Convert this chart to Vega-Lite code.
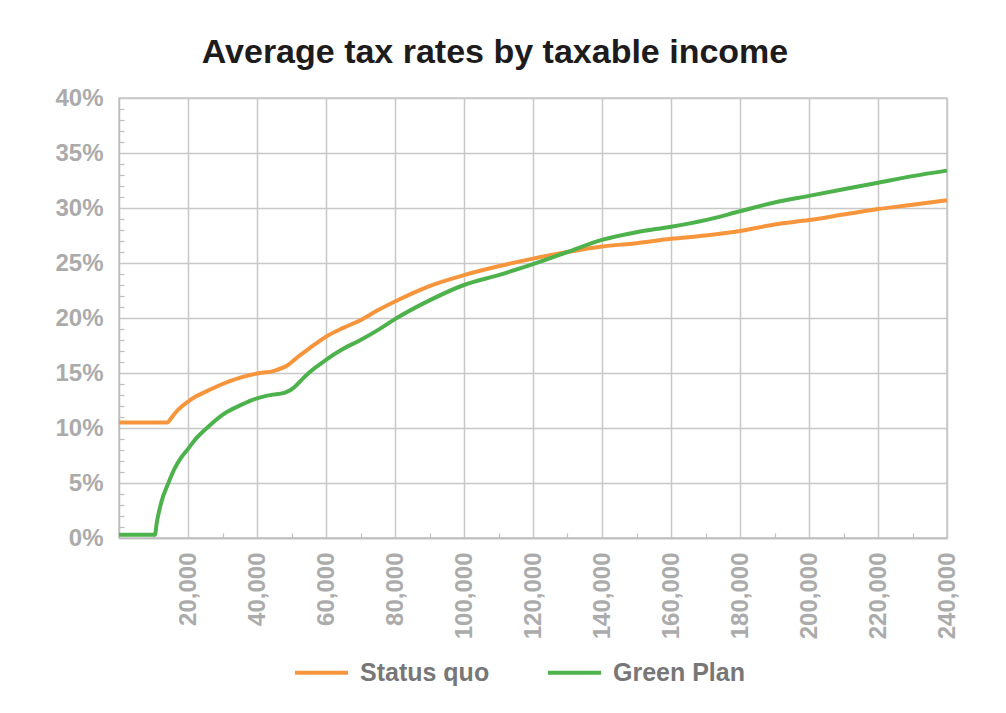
{
  "$schema": "https://vega.github.io/schema/vega-lite/v6.json",
  "autosize": "none",
  "width": 828,
  "height": 440,
  "padding": {"left": 119, "top": 98, "right": 59, "bottom": 175},
  "background": "white",
  "title": {
    "text": "Average tax rates by taxable income",
    "font": "Liberation Sans",
    "fontSize": 34,
    "fontWeight": "bold",
    "color": "#1d1b1c",
    "anchor": "middle",
    "dx": -38,
    "offset": 16
  },
  "config": {
    "view": {"stroke": "#c8c8c8", "strokeWidth": 1.5},
    "axis": {
      "labelFont": "Liberation Sans",
      "labelFontWeight": "bold",
      "labelColor": "#ababab",
      "labelFontSize": 24,
      "domainColor": "#bdbdbd",
      "domainWidth": 1.5,
      "gridColor": "#c8c8c8",
      "gridWidth": 1.5,
      "tickColor": "#bdbdbd",
      "tickWidth": 1.2
    }
  },
  "data": {
    "values": [
      {"plan": "Status quo", "income": 0, "rate": 10.5},
      {"plan": "Status quo", "income": 14000, "rate": 10.5},
      {"plan": "Status quo", "income": 15000, "rate": 10.85},
      {"plan": "Status quo", "income": 16100, "rate": 11.3},
      {"plan": "Status quo", "income": 18000, "rate": 11.9},
      {"plan": "Status quo", "income": 20000, "rate": 12.4},
      {"plan": "Status quo", "income": 22500, "rate": 12.9},
      {"plan": "Status quo", "income": 25800, "rate": 13.4},
      {"plan": "Status quo", "income": 30000, "rate": 14.0},
      {"plan": "Status quo", "income": 35400, "rate": 14.6},
      {"plan": "Status quo", "income": 40000, "rate": 14.95},
      {"plan": "Status quo", "income": 45000, "rate": 15.2},
      {"plan": "Status quo", "income": 48900, "rate": 15.7},
      {"plan": "Status quo", "income": 52000, "rate": 16.5},
      {"plan": "Status quo", "income": 55000, "rate": 17.2},
      {"plan": "Status quo", "income": 60000, "rate": 18.3},
      {"plan": "Status quo", "income": 65000, "rate": 19.1},
      {"plan": "Status quo", "income": 70000, "rate": 19.8},
      {"plan": "Status quo", "income": 75000, "rate": 20.7},
      {"plan": "Status quo", "income": 80000, "rate": 21.5},
      {"plan": "Status quo", "income": 90000, "rate": 22.9},
      {"plan": "Status quo", "income": 100000, "rate": 23.9},
      {"plan": "Status quo", "income": 110000, "rate": 24.7},
      {"plan": "Status quo", "income": 120000, "rate": 25.4},
      {"plan": "Status quo", "income": 130000, "rate": 26.0},
      {"plan": "Status quo", "income": 140000, "rate": 26.5},
      {"plan": "Status quo", "income": 150000, "rate": 26.8},
      {"plan": "Status quo", "income": 160000, "rate": 27.2},
      {"plan": "Status quo", "income": 170000, "rate": 27.5},
      {"plan": "Status quo", "income": 180000, "rate": 27.9},
      {"plan": "Status quo", "income": 190000, "rate": 28.5},
      {"plan": "Status quo", "income": 200000, "rate": 28.9},
      {"plan": "Status quo", "income": 210000, "rate": 29.4},
      {"plan": "Status quo", "income": 220000, "rate": 29.9},
      {"plan": "Status quo", "income": 230000, "rate": 30.3},
      {"plan": "Status quo", "income": 240000, "rate": 30.7},
      {"plan": "Green Plan", "income": 0, "rate": 0.3},
      {"plan": "Green Plan", "income": 10400, "rate": 0.3},
      {"plan": "Green Plan", "income": 11000, "rate": 1.5},
      {"plan": "Green Plan", "income": 11600, "rate": 2.4},
      {"plan": "Green Plan", "income": 12300, "rate": 3.3},
      {"plan": "Green Plan", "income": 14200, "rate": 4.9},
      {"plan": "Green Plan", "income": 16100, "rate": 6.3},
      {"plan": "Green Plan", "income": 18000, "rate": 7.3},
      {"plan": "Green Plan", "income": 20000, "rate": 8.1},
      {"plan": "Green Plan", "income": 22500, "rate": 9.1},
      {"plan": "Green Plan", "income": 25800, "rate": 10.1},
      {"plan": "Green Plan", "income": 30000, "rate": 11.2},
      {"plan": "Green Plan", "income": 35400, "rate": 12.1},
      {"plan": "Green Plan", "income": 40000, "rate": 12.7},
      {"plan": "Green Plan", "income": 44000, "rate": 13.0},
      {"plan": "Green Plan", "income": 47900, "rate": 13.2},
      {"plan": "Green Plan", "income": 49500, "rate": 13.4},
      {"plan": "Green Plan", "income": 50800, "rate": 13.7},
      {"plan": "Green Plan", "income": 53000, "rate": 14.4},
      {"plan": "Green Plan", "income": 55000, "rate": 15.0},
      {"plan": "Green Plan", "income": 58500, "rate": 15.85},
      {"plan": "Green Plan", "income": 60000, "rate": 16.2},
      {"plan": "Green Plan", "income": 65000, "rate": 17.2},
      {"plan": "Green Plan", "income": 70000, "rate": 18.0},
      {"plan": "Green Plan", "income": 75000, "rate": 18.9},
      {"plan": "Green Plan", "income": 80000, "rate": 19.9},
      {"plan": "Green Plan", "income": 90000, "rate": 21.6},
      {"plan": "Green Plan", "income": 100000, "rate": 23.0},
      {"plan": "Green Plan", "income": 110000, "rate": 23.9},
      {"plan": "Green Plan", "income": 120000, "rate": 24.9},
      {"plan": "Green Plan", "income": 130000, "rate": 26.0},
      {"plan": "Green Plan", "income": 140000, "rate": 27.1},
      {"plan": "Green Plan", "income": 150000, "rate": 27.8},
      {"plan": "Green Plan", "income": 160000, "rate": 28.3},
      {"plan": "Green Plan", "income": 170000, "rate": 28.9},
      {"plan": "Green Plan", "income": 180000, "rate": 29.7},
      {"plan": "Green Plan", "income": 190000, "rate": 30.5},
      {"plan": "Green Plan", "income": 200000, "rate": 31.1},
      {"plan": "Green Plan", "income": 210000, "rate": 31.7},
      {"plan": "Green Plan", "income": 220000, "rate": 32.3},
      {"plan": "Green Plan", "income": 230000, "rate": 32.9},
      {"plan": "Green Plan", "income": 240000, "rate": 33.4}
    ]
  },
  "mark": {"type": "line", "interpolate": "monotone", "strokeWidth": 4, "strokeCap": "butt"},
  "encoding": {
    "x": {
      "field": "income",
      "type": "quantitative",
      "scale": {"domain": [0, 240000], "nice": false, "zero": false},
      "axis": {
        "title": null,
        "values": [10000, 20000, 30000, 40000, 50000, 60000, 70000, 80000, 90000, 100000, 110000, 120000, 130000, 140000, 150000, 160000, 170000, 180000, 190000, 200000, 210000, 220000, 230000, 240000],
        "labelExpr": "datum.value % 20000 === 0 ? format(datum.value, ',') : ''",
        "labelAngle": 270,
        "labelAlign": "right",
        "labelBaseline": "middle",
        "labelOverlap": false,
        "labelFlush": false,
        "labelPadding": 19,
        "tickSize": -5,
        "tickOpacity": {"condition": {"test": "datum.value % 20000 === 0", "value": 0}, "value": 1},
        "gridOpacity": {"condition": {"test": "datum.value % 20000 === 0", "value": 1}, "value": 0}
      }
    },
    "y": {
      "field": "rate",
      "type": "quantitative",
      "scale": {"domain": [0, 40], "nice": false},
      "axis": {
        "title": null,
        "values": [0, 1, 2, 3, 4, 5, 6, 7, 8, 9, 10, 11, 12, 13, 14, 15, 16, 17, 18, 19, 20, 21, 22, 23, 24, 25, 26, 27, 28, 29, 30, 31, 32, 33, 34, 35, 36, 37, 38, 39, 40],
        "labelExpr": "datum.value % 5 === 0 ? datum.value + '%' : ''",
        "labelOverlap": false,
        "labelFlush": false,
        "labelPadding": 21,
        "tickSize": -5,
        "tickOpacity": {"condition": {"test": "datum.value % 5 === 0", "value": 0}, "value": 1},
        "gridOpacity": {"condition": {"test": "datum.value % 5 === 0", "value": 1}, "value": 0}
      }
    },
    "color": {
      "field": "plan",
      "type": "nominal",
      "sort": ["Status quo", "Green Plan"],
      "scale": {"domain": ["Status quo", "Green Plan"], "range": ["#F7953D", "#4DB24B"]},
      "legend": {
        "title": null,
        "orient": "none",
        "legendX": 174,
        "legendY": 546,
        "direction": "horizontal",
        "symbolType": "stroke",
        "symbolSize": 2809,
        "symbolStrokeWidth": 4,
        "labelFont": "Liberation Sans",
        "labelFontWeight": "bold",
        "labelFontSize": 25,
        "labelColor": "#777777",
        "labelOffset": 10,
        "columnPadding": 50,
        "labelLimit": 300
      }
    }
  }
}
